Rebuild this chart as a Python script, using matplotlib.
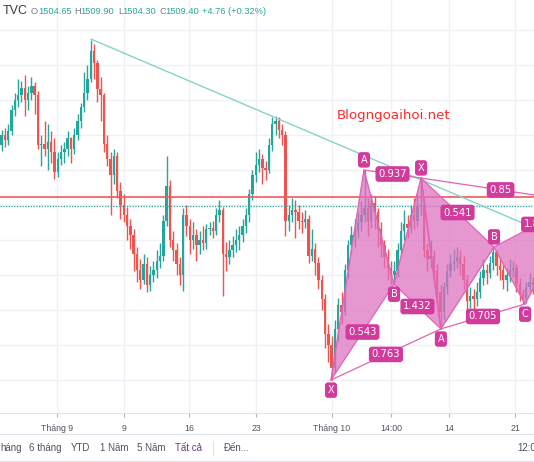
import matplotlib
matplotlib.use("Agg")
import matplotlib.pyplot as plt
import numpy as np

# ---- candle data (XAU, 4h-ish bars) ----
first_open = 1527
closes = [1530, 1528.5, 1531, 1537, 1540, 1541.5, 1543.5, 1540, 1542, 1544,
          1541.5, 1527, 1527.5, 1526, 1528, 1525, 1519.5, 1523, 1525, 1526,
          1529, 1526, 1530, 1534, 1538, 1542, 1546, 1554, 1550.5, 1543,
          1541.5, 1527.5, 1523, 1518.5, 1524, 1514, 1510, 1507, 1504, 1501.5,
          1496, 1491.5, 1488.5, 1493, 1487, 1490, 1491.5, 1494, 1495.5, 1505.5,
          1515.5, 1500, 1497, 1493, 1490, 1507, 1504, 1500, 1501.5, 1498.5,
          1500, 1499, 1503, 1503.5, 1502.5, 1507, 1508.5, 1496, 1495, 1497,
          1498.5, 1500, 1501.5, 1504, 1507, 1513, 1518.5, 1521.5, 1523, 1520.5,
          1520, 1527, 1533, 1534, 1531.5, 1530, 1505.5, 1507, 1508.5, 1508,
          1505.5, 1505, 1506, 1495.5, 1497.5, 1493.5, 1488.5, 1483, 1473, 1470,
          1463.5, 1474.5, 1481.5, 1479.5, 1491.5, 1498.5, 1501.5, 1502.5, 1505, 1507,
          1509, 1505.5, 1510.5, 1508, 1503, 1498.5, 1495, 1492, 1490, 1491,
          1497, 1502.5, 1504.5, 1503.5, 1507, 1505.5, 1509.5, 1510, 1497, 1494.5,
          1495.5, 1491, 1485, 1479.5, 1486.5, 1491, 1493, 1494, 1495, 1493,
          1488.5, 1482.5, 1484, 1483, 1485, 1489, 1491.5, 1490.5, 1493.5, 1496.5,
          1492.5, 1491.5, 1488.5, 1490, 1491.5, 1492, 1487.5, 1484.5, 1483, 1486.5,
          1488, 1487]
highs = [1531.5, 1532, 1533, 1538.5, 1542, 1546, 1545.5, 1547, 1544, 1546.5,
         1545, 1542.5, 1530, 1534, 1533, 1531, 1529, 1525, 1527, 1528,
         1531, 1529.5, 1532, 1536, 1539, 1548, 1550, 1557, 1556, 1551.5,
         1546.5, 1542, 1530, 1525, 1526, 1525, 1516.5, 1513, 1509.5, 1506,
         1503, 1498, 1494.5, 1496, 1495, 1492.5, 1494, 1497, 1499, 1507,
         1524, 1517, 1502.5, 1499, 1495, 1509, 1510, 1506, 1505, 1503,
         1502.5, 1504, 1504.5, 1505, 1505.5, 1509, 1511.5, 1509.5, 1499.5, 1500,
         1501, 1503, 1504, 1506, 1509, 1514.5, 1520, 1525, 1526, 1524.5,
         1522.5, 1529, 1535, 1535.5, 1535, 1533, 1531, 1510, 1512, 1511.5,
         1510, 1508, 1508.5, 1507, 1503, 1499, 1495, 1490, 1484.5, 1476,
         1472.5, 1477, 1483.5, 1485, 1493, 1500, 1504, 1506, 1508, 1511,
         1520, 1512, 1513, 1512.5, 1509, 1505, 1500, 1497.5, 1494, 1494,
         1499, 1505, 1508.5, 1507, 1510, 1512, 1513, 1517.5, 1511, 1499,
         1500, 1497, 1493, 1487, 1488, 1493, 1496, 1497.5, 1498, 1497,
         1495.5, 1490, 1486.5, 1486, 1488, 1491, 1494.5, 1493, 1495.5, 1498,
         1497, 1495, 1493, 1492, 1494.5, 1494, 1493, 1489, 1486, 1488,
         1490.5, 1489.5]
lows = [1525.5, 1526.5, 1527, 1530, 1535.5, 1538, 1539.5, 1535.5, 1537, 1540,
        1536, 1526, 1521, 1524, 1520, 1522, 1517.5, 1518, 1521.5, 1522,
        1524, 1522, 1524.5, 1528.5, 1532, 1536.5, 1540, 1545, 1546, 1539.5,
        1534, 1525, 1521, 1507, 1516, 1512, 1506, 1505, 1500, 1497.5,
        1491, 1488, 1486, 1487.5, 1485, 1485.5, 1488, 1489, 1492, 1494,
        1504, 1498, 1494, 1490, 1487, 1485.5, 1501, 1496, 1497.5, 1494,
        1496, 1497, 1497.5, 1501.5, 1500.5, 1501.5, 1505, 1484, 1491, 1493,
        1495, 1496.5, 1497, 1499.5, 1502, 1505, 1511.5, 1516.5, 1519.5, 1516,
        1517, 1519, 1525.5, 1530, 1529, 1527, 1501, 1502.5, 1505, 1500.5,
        1503, 1502, 1503.5, 1493.5, 1494, 1490, 1486, 1480, 1469, 1465,
        1460, 1462, 1471, 1476, 1478.5, 1489, 1496, 1498, 1500.5, 1502.5,
        1505, 1501, 1503.5, 1503, 1498, 1495, 1492, 1488.5, 1487.5, 1487.5,
        1489.5, 1495.5, 1500, 1500.5, 1502, 1503, 1504, 1507, 1495, 1491,
        1492, 1488, 1482, 1474.5, 1477, 1484.5, 1489.5, 1491, 1492, 1490,
        1486, 1478, 1480.5, 1480, 1481, 1483.5, 1487, 1487.5, 1489, 1491.5,
        1490, 1488.5, 1486, 1485.5, 1488, 1489.5, 1485, 1482.5, 1481.7, 1482,
        1485, 1484.5]

# tick labels on the time axis (positions in bar index)
tick_pos = [16.8, 37.1, 56.8, 77.1, 100.1, 118.0, 135.6, 155.6]
tick_labels = ["Tháng 9", "9", "16", "23", "Tháng 10", "14:00", "14", "21"]

# harmonic pattern pivots (bar index, price)
pat1_x = [99.8, 109.8, 118.9, 127.1, 133.1]
pat1_y = [1460, 1520, 1487.4, 1517.7, 1474.6]
pat2_x = [127.1, 133.1, 149.2, 158.6, 175.3]
pat2_y = [1517.7, 1474.6, 1498, 1481.7, 1510.9]
pat1_ratios = ["0.543", "0.937", "1.432", "0.763"]
pat2_ratios = ["0.541", "0.705", "1.8", "0.85"]

# trend line and horizontal levels
trend_x = [27.1, 157.7]
trend_y = [1557.4, 1504.9]
red_level = 1512.3
last_price = 1509.7

GREEN = "#26a69a"
RED = "#ef5350"
PINK_LINE = "#e064b6"
PINK_FILL = "#de6fbf"
PINK_BOX = "#d23b9c"
UI_FONT = "Liberation Sans"

fig = plt.figure(figsize=(5.34, 4.62), dpi=100)
ax = fig.add_axes([0, 49 / 462, 1, 413 / 462])

# candles
opens = [first_open] + closes[:-1]
idx = np.arange(len(closes))
o = np.array(opens)
c = np.array(closes)
colors = [GREEN if cc >= oo else RED for oo, cc in zip(o, c)]
ax.vlines(idx, lows, highs, colors=colors, linewidth=1.0, zorder=2)
body_h = np.maximum(np.abs(c - o), 0.3)
ax.bar(idx, body_h, bottom=np.minimum(o, c), width=0.7, color=colors,
       linewidth=0, zorder=3)

# levels
ax.axhline(red_level, color="#f0595a", lw=1.2, zorder=4)
ax.axhline(last_price, color=GREEN, lw=0.9, ls=(0, (1, 1.2)), zorder=4)
ax.plot(trend_x, trend_y, color="#86d2c6", lw=1.0, zorder=4)

box = dict(boxstyle="round,pad=0.28,rounding_size=0.3", fc=PINK_BOX, ec="none")


def draw_pattern(px, py, ratios):
    X, A, B, C, D = list(zip(px, py))
    ax.fill([X[0], A[0], B[0]], [X[1], A[1], B[1]], color=PINK_FILL,
            alpha=0.72, lw=0, zorder=5)
    ax.fill([B[0], C[0], D[0]], [B[1], C[1], D[1]], color=PINK_FILL,
            alpha=0.72, lw=0, zorder=5)
    ax.plot(px, py, color=PINK_LINE, lw=1.0, zorder=6)
    for (p, q), txt in zip([(X, B), (A, C), (B, D), (X, D)], ratios):
        ax.plot([p[0], q[0]], [p[1], q[1]], color=PINK_LINE, lw=0.9, zorder=6)
        mx, my = (p[0] + q[0]) / 2, (p[1] + q[1]) / 2
        if mx > 158:
            # label runs off the right edge, only its start is visible
            ax.annotate(txt, (mx, my), xytext=(-9.5, 0), textcoords="offset points",
                        color="white", fontsize=7.2, ha="left", va="center",
                        zorder=8, bbox=box, annotation_clip=False)
        else:
            ax.text(mx, my, txt, color="white", fontsize=7.2, ha="center",
                    va="center", zorder=8, bbox=box)


draw_pattern(pat1_x, pat1_y, pat1_ratios)
draw_pattern(pat2_x, pat2_y, pat2_ratios)

# point labels
point_labels = [(pat1_x[0], pat1_y[0], "X", -1), (pat1_x[1], pat1_y[1], "A", 1),
                (pat1_x[2], pat1_y[2], "B", -1), (pat2_x[0], pat2_y[0], "X", 1),
                (pat2_x[1], pat2_y[1], "A", -1), (pat2_x[2], pat2_y[2], "B", 1),
                (pat2_x[3], pat2_y[3], "C", -1)]
for x, y, t, side in point_labels:
    ax.annotate(t, (x, y), xytext=(0, 7.3 * side), textcoords="offset points",
                color="white", fontsize=7, ha="center", va="center", zorder=8,
                bbox=box)

ax.set_xlim(-0.5, 161.32)
ax.set_ylim(1450.57, 1568.57)
ax.set_yticks(np.arange(1460, 1561, 10))
ax.set_xticks(tick_pos)
ax.set_xticklabels(tick_labels, fontfamily=UI_FONT)
ax.grid(True, color="#eef1f5", lw=1.0, zorder=0)
ax.set_axisbelow(True)
ax.tick_params(axis="y", length=0, labelleft=False)
ax.tick_params(axis="x", length=3, color="#b2b5be", labelsize=6.3,
               labelcolor="#50535e", pad=5)
for s in ["top", "left", "right"]:
    ax.spines[s].set_visible(False)
ax.spines["bottom"].set_color("#e0e3eb")

# watermark
ax.text(0.63, 0.7505, "Blogngoaihoi.net", transform=fig.transFigure,
        color="#ff2b2b", fontsize=9.6, ha="left", va="center")

# header
fig.text(3 / 534, 1 - 11 / 462, "TVC", fontsize=9, color="#3b3e48",
         va="center", family=UI_FONT)
head = [(31, "O", "#787b86"), (38, "1504.65", GREEN), (74, "H", "#787b86"),
        (80, "1509.90", GREEN), (118, "L", "#787b86"), (122, "1504.30", GREEN),
        (159, "C", "#787b86"), (165, "1509.40", GREEN), (202, "+4.76 (+0.32%)", GREEN)]
for hx, txt, col in head:
    fig.text(hx / 534, 1 - 11 / 462, txt, fontsize=6.7, color=col,
             va="center", family=UI_FONT)

# bottom toolbar
fig.add_artist(plt.Line2D([0, 1], [1 - 434 / 462] * 2, color="#e0e3eb", lw=0.8))
fig.add_artist(plt.Line2D([0, 1], [1 - 461 / 462] * 2, color="#e0e3eb", lw=0.8))
fig.add_artist(plt.Line2D([213 / 534] * 2, [1 - 441 / 462, 1 - 455 / 462],
                          color="#e0e3eb", lw=0.8))
toolbar = [(0, "háng", "#50535e"), (29, "6 tháng", "#50535e"), (71, "YTD", "#50535e"),
           (100, "1 Năm", "#50535e"), (137, "5 Năm", "#50535e"),
           (175, "Tất cả", "#6b3a84"), (224, "Đến...", "#50535e"),
           (517, "12:0", "#50535e")]
for tx, txt, col in toolbar:
    fig.text(tx / 534, 1 - 448 / 462, txt, fontsize=7, color=col,
             va="center", family=UI_FONT)

fig.savefig("out.png", dpi=100)
